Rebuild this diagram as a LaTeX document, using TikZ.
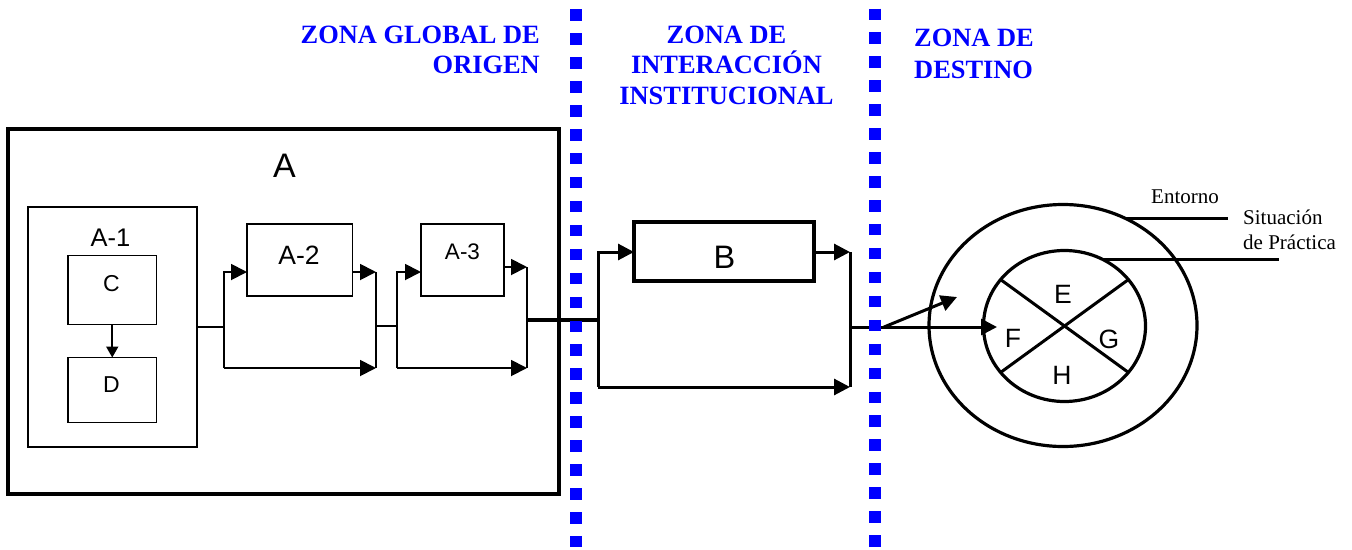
\documentclass[tikz,border=0pt]{standalone}
\usepackage{fontspec}
\setmainfont{Liberation Serif}
\setsansfont{Liberation Sans}
\usetikzlibrary{arrows.meta,shapes.geometric}
\begin{document}
\begin{tikzpicture}[x=1pt,y=-1pt,
  box/.style={draw, inner sep=0pt, outer sep=0pt},
  thinbox/.style={box, line width=1.7pt},
  thickbox/.style={box, line width=3.5pt},
  ring/.style={draw, ellipse, inner sep=0pt, outer sep=0pt, line width=3.2pt},
  slbl/.style={inner sep=0pt, font=\sffamily\fontsize{#1}{#1}\selectfont},
  zone/.style={inner sep=0pt, text=blue, font=\bfseries\fontsize{26.4}{30}\selectfont},
  note/.style={inner sep=0pt, font=\fontsize{21}{25}\selectfont},
  flowA/.style={line width=1.9pt},
  flowB/.style={line width=3pt},
  tip/.style={-{Triangle[length=16pt,width=16pt]}},
  smalltip/.style={-{Triangle[length=11pt,width=12pt]}},
  zonesep/.style={blue, line width=12pt, dash pattern=on 11.5pt off 12.44pt}
]
\useasboundingbox (0,0) rectangle (1352,549);

% headers
\node[zone, anchor=base east] (z1a) at (540,43.3) {ZONA GLOBAL DE};
\node[zone, anchor=base east] (z1b) at (540,73.3) {ORIGEN};
\node[zone, anchor=base] (z2a) at (726.5,43.3) {ZONA DE};
\node[zone, anchor=base] (z2b) at (726.5,73.5) {INTERACCIÓN};
\node[zone, anchor=base] (z2c) at (726.5,104.5) {INSTITUCIONAL};
\node[zone, anchor=base west] (z3a) at (914,46.7) {ZONA DE};
\node[zone, anchor=base west] (z3b) at (914,78) {DESTINO};

% zone A
\node[thickbox, minimum width=551pt, minimum height=365pt] (A) at (283.5,311.5) {};
\node[slbl=34] (Alab) at (284.5,166) {A};
\node[thinbox, minimum width=169pt, minimum height=240pt] (A1) at (112.5,327) {};
\node[slbl=25.5] (A1lab) at (110.5,237.5) {A-1};
\node[thinbox, minimum width=88.5pt, minimum height=69pt] (C) at (112.25,290) {};
\node[slbl=23] (Clab) at (111.5,284) {C};
\node[thinbox, minimum width=88.5pt, minimum height=65pt] (D) at (112.25,390) {};
\node[slbl=23] (Dlab) at (111.5,385) {D};
\node[thinbox, minimum width=105.5pt, minimum height=72pt] (A2) at (299.75,260) {};
\node[slbl=26.5] (A2lab) at (299,255) {A-2};
\node[thinbox, minimum width=83pt, minimum height=72pt] (A3) at (462.5,260) {};
\node[slbl=22.5] (A3lab) at (462.5,252) {A-3};

% zone B
\node[thickbox, minimum width=180pt, minimum height=59pt] (B) at (724,251.5) {};
\node[slbl=32.5] (Blab) at (724.5,257) {B};

% destination
\node[ring, minimum width=268pt, minimum height=242pt] (outer) at (1063,325.5) {};
\node[ring, minimum width=162pt, minimum height=151pt] (inner) at (1064.5,326) {};
\node[slbl=26.5] (E) at (1063,294) {E};
\node[slbl=26.5] (F) at (1013,338.7) {F};
\node[slbl=26.5] (G) at (1109,339.7) {G};
\node[slbl=26.5] (H) at (1062,375.5) {H};
\node[note, anchor=base west] (ent) at (1151,203) {Entorno};
\node[note, anchor=base west] (sit1) at (1243,224) {Situación};
\node[note, anchor=base west] (sit2) at (1243,249) {de Práctica};

% junction coordinates
\coordinate (f1m) at (224,327);
\coordinate (f1t) at (224,272);
\coordinate (f1b) at (224,368);
\coordinate (g1t) at (376,272);
\coordinate (g1m) at (376,326);
\coordinate (g1b) at (376,368);
\coordinate (f2t) at (397,272);
\coordinate (f2m) at (397,326);
\coordinate (f2b) at (397,368);
\coordinate (g2t) at (527,267);
\coordinate (g2m) at (527,320);
\coordinate (g2b) at (527,368);
\coordinate (f3t) at (598,252);
\coordinate (f3m) at (598,320);
\coordinate (f3b) at (598,387);
\coordinate (g3t) at (850,252);
\coordinate (g3m) at (850,327);
\coordinate (g3b) at (850,387);
\coordinate (split) at (884,327);
\coordinate (fTip) at (997,327);
\coordinate (ringTip) at (957,297);
\coordinate (entR) at (1228,0);
\coordinate (sitR) at (1279,0);

% connectors zone A
\draw[flowA, smalltip] (C.south) -- (D.north);
\draw[flowA] (A1.east) -- (f1m);
\draw[flowA, tip] (f1b) -- (f1t) -- (f1t -| A2.west);
\draw[flowA, tip] (f1b) -- (g1b);
\draw[flowA, tip] (A2.east |- g1t) -- (g1t);
\draw[flowA] (g1t) -- (g1b);
\draw[flowA] (g1m) -- (f2m);
\draw[flowA, tip] (f2b) -- (f2t) -- (f2t -| A3.west);
\draw[flowA, tip] (f2b) -- (g2b);
\draw[flowA, tip] (A3.east |- g2t) -- (g2t);
\draw[flowA] (g2t) -- (g2b);

% connectors zone B
\draw[line width=3.5pt] (g2m) -- (f3m);
\draw[flowB, tip] (f3b) -- (f3t) -- (f3t -| B.west);
\draw[flowB, tip] (f3b) -- (g3b);
\draw[flowB, tip] (B.east |- g3t) -- (g3t);
\draw[flowB] (g3t) -- (g3b);

% to destination
\draw[flowB, tip] (g3m) -- (fTip);
\draw[flowB, tip] (split) -- (ringTip);
\draw[flowB] (outer.60) -- (outer.60 -| entR);
\draw[flowB] (inner.60) -- (inner.60 -| sitR);
\draw[flowB] (inner.144) -- (inner.-36);
\draw[flowB] (inner.36) -- (inner.-144);

% zone separators
\draw[zonesep] (576,9.3) -- (576,549);
\draw[zonesep] (875,8.5) -- (875,549);
\end{tikzpicture}
\end{document}
